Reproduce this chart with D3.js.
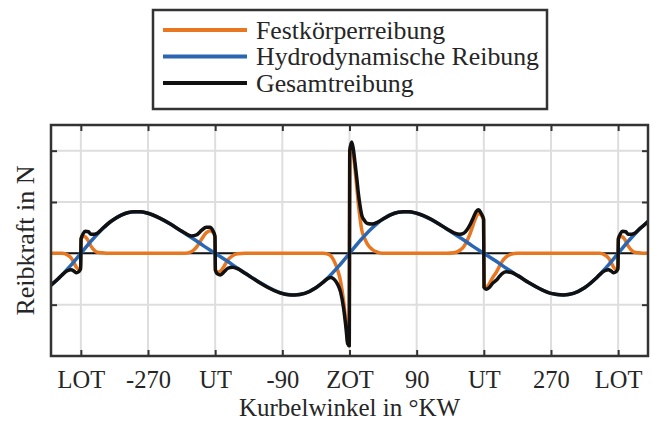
<!DOCTYPE html>
<meta charset="utf-8">
<style>
    body { margin: 0; background: #fff; }
    text { font-family: "Liberation Serif", "Times New Roman", serif; fill: #262626; }
</style>
<body>
<script src="https://d3js.org/d3.v7.min.js"></script>
<script>
    // x positions of the ticks (degree crank angle) and their labels
    var tickAngles = [-360, -270, -180, -90, 0, 90, 180, 270, 360];
    var tickLabels = ["LOT", "-270", "UT", "-90", "ZOT", "90", "UT", "270", "LOT"];
    var yTicks = [-1, 0, 1, 2];

    // Hydrodynamische Reibung, coarse sampling
    var hydroAngle = [-400, -390, -375, -360, -345, -330, -315, -300, -285, -270, -255, -240, -225, -210, -195,
        -180, -165, -150, -135, -120, -105, -90, -75, -60, -45, -30, -15, 0, 15, 30, 45, 60, 75, 90, 105, 120,
        135, 150, 165, 180, 195, 210, 225, 240, 255, 270, 285, 300, 315, 330, 345, 360, 375, 390, 400];
    var hydro = [-0.62, -0.49, -0.26, 0, 0.26, 0.49, 0.67, 0.78, 0.81, 0.78, 0.69, 0.57, 0.43, 0.29, 0.14,
        0, -0.14, -0.29, -0.43, -0.57, -0.69, -0.78, -0.81, -0.78, -0.67, -0.49, -0.26, 0, 0.26, 0.49, 0.67, 0.78, 0.81, 0.78, 0.69, 0.57,
        0.43, 0.29, 0.14, 0, -0.14, -0.29, -0.43, -0.57, -0.69, -0.78, -0.81, -0.78, -0.67, -0.49, -0.26, 0, 0.26, 0.49, 0.62];

    // dense sampling around the dead centres for Festkörper- and Gesamtreibung
    var angle = [-400, -390, -385, -378, -373, -369, -366, -363, -360.3, -359.7, -357, -354, -350, -346, -342, -338, -332,
        -320, -305, -290, -280, -270, -255, -240, -228, -220, -212, -205, -198, -192, -187, -183, -180.3, -179.7,
        -177, -173, -168, -163, -157, -150, -140, -125, -110, -95, -85, -73, -60, -45, -35, -30, -25, -21, -16,
        -12, -8, -4.5, -2.5, -0.3, 0.3, 3, 5, 7.5, 10, 12, 14, 16.5, 20, 24, 30, 38, 45, 55, 65, 72, 80, 90, 100,
        110, 120, 130, 140, 148, 153, 158, 162, 166, 170, 173, 176, 179.7, 180.3, 183, 187, 192, 197, 201, 205,
        210, 216, 225, 240, 255, 270, 287, 300, 315, 330, 335, 342, 347, 351, 354, 357, 359.7, 360.3, 363, 366,
        370, 374, 378, 382, 388, 394, 400];
    var fest = [0, 0, 0, -0.03, -0.09, -0.19, -0.27, -0.31, -0.30, 0.28, 0.33, 0.32, 0.24, 0.13, 0.06, 0.02, 0.01,
        0, 0, 0, 0, 0, 0, 0, 0, 0, 0.03, 0.12, 0.28, 0.40, 0.44, 0.41, 0.33, -0.33,
        -0.37, -0.35, -0.25, -0.13, -0.05, -0.01, 0, 0, 0, 0, 0, 0, 0, 0, 0, -0.01, -0.05, -0.14, -0.32,
        -0.54, -0.92, -1.40, -1.72, -1.80, 2.00, 2.12, 1.95, 1.62, 1.25, 0.94, 0.70, 0.45, 0.30, 0.18, 0.08, 0.02, 0, 0, 0, 0, 0, 0, 0,
        0, 0, 0, 0.01, 0.06, 0.13, 0.26, 0.40, 0.57, 0.72, 0.78, 0.75, 0.66, -0.66, -0.67, -0.60, -0.47, -0.36, -0.25, -0.15,
        -0.07, -0.02, 0, 0, 0, 0, 0, 0, 0, 0, 0, -0.03, -0.09, -0.19, -0.27, -0.31, -0.30, 0.28, 0.33, 0.32,
        0.24, 0.13, 0.06, 0.02, 0.01, 0, 0];
    var gesamt = [-0.62, -0.49, -0.42, -0.34, -0.32, -0.35, -0.38, -0.36, -0.30, 0.28, 0.38, 0.43, 0.42, 0.37, 0.37, 0.39, 0.47,
        0.62, 0.75, 0.81, 0.81, 0.78, 0.69, 0.57, 0.46, 0.39, 0.34, 0.36, 0.45, 0.51, 0.51, 0.44, 0.33, -0.33,
        -0.40, -0.42, -0.36, -0.29, -0.27, -0.30, -0.39, -0.53, -0.66, -0.76, -0.80, -0.81, -0.78, -0.67, -0.56, -0.50, -0.47, -0.50, -0.60,
        -0.75, -1.06, -1.48, -1.76, -1.80, 2.00, 2.17, 2.04, 1.75, 1.43, 1.15, 0.94, 0.74, 0.64, 0.58, 0.57, 0.61, 0.67, 0.75, 0.80, 0.81, 0.81, 0.78, 0.73,
        0.66, 0.57, 0.48, 0.40, 0.37, 0.39, 0.47, 0.57, 0.70, 0.82, 0.85, 0.79, 0.66, -0.66, -0.70, -0.67, -0.58, -0.52, -0.45, -0.39,
        -0.36, -0.37, -0.43, -0.57, -0.69, -0.78, -0.81, -0.78, -0.67, -0.49, -0.42, -0.34, -0.32, -0.35, -0.38, -0.36, -0.30, 0.28, 0.38, 0.43,
        0.42, 0.37, 0.37, 0.39, 0.47, 0.54, 0.62];

    var seriesNames = ["Festkörperreibung", "Hydrodynamische Reibung", "Gesamtreibung"];
    var seriesColors = ["#e87722", "#2a66b1", "#111111"];

    var width = 652,
        height = 421,
        margin = {top: 125, right: 4, bottom: 65, left: 51};

    var svg = d3.select('body')
        .append('svg')
        .attr('width', width)
        .attr('height', height);

    var x = d3.scaleLinear()
        .domain([-400, 400])
        .range([margin.left, width - margin.right]);

    var y = d3.scaleLinear()
        .domain([-2, 2.5])
        .range([height - margin.bottom, margin.top]);

    var plotW = width - margin.right - margin.left,
        plotH = height - margin.bottom - margin.top;

    svg.append('clipPath').attr('id', 'clip')
        .append('rect')
        .attr('x', margin.left).attr('y', margin.top)
        .attr('width', plotW).attr('height', plotH);

    // grid
    var grid = svg.append('g').attr('stroke', '#dedede').attr('stroke-width', 2);
    grid.selectAll('.vg').data(tickAngles).enter().append('line')
        .attr('x1', d => x(d)).attr('x2', d => x(d))
        .attr('y1', margin.top).attr('y2', height - margin.bottom);
    grid.selectAll('.hg').data(yTicks).enter().append('line')
        .attr('x1', margin.left).attr('x2', width - margin.right)
        .attr('y1', d => y(d)).attr('y2', d => y(d));

    // axes with inward ticks
    var bottomAxis = svg.append('g')
        .attr('transform', `translate(0,${height - margin.bottom})`)
        .call(d3.axisBottom(x).tickValues(tickAngles)
            .tickFormat((d, i) => tickLabels[i])
            .tickSizeInner(-6).tickSizeOuter(0).tickPadding(15));
    var topAxis = svg.append('g')
        .attr('transform', `translate(0,${margin.top})`)
        .call(d3.axisTop(x).tickValues(tickAngles).tickFormat('')
            .tickSizeInner(-6).tickSizeOuter(0));
    var leftAxis = svg.append('g')
        .attr('transform', `translate(${margin.left},0)`)
        .call(d3.axisLeft(y).tickValues(yTicks).tickFormat('')
            .tickSizeInner(-6).tickSizeOuter(0));
    var rightAxis = svg.append('g')
        .attr('transform', `translate(${width - margin.right},0)`)
        .call(d3.axisRight(y).tickValues(yTicks).tickFormat('')
            .tickSizeInner(-6).tickSizeOuter(0));

    [bottomAxis, topAxis, leftAxis, rightAxis].forEach(function (a) {
        a.select('.domain').remove();
        a.selectAll('.tick line').attr('stroke', '#333').attr('stroke-width', 2);
    });
    bottomAxis.selectAll('.tick text')
        .style('font-family', '"Liberation Serif", serif')
        .attr('font-size', 24.5).attr('fill', '#262626');

    var plot = svg.append('g').attr('clip-path', 'url(#clip)');

    // zero line
    plot.append('line')
        .attr('x1', margin.left).attr('x2', width - margin.right)
        .attr('y1', y(0)).attr('y2', y(0))
        .attr('stroke', '#111').attr('stroke-width', 2);

    var line = d3.line()
        .x(d => x(d[0]))
        .y(d => y(d[1]))
        .curve(d3.curveMonotoneX);

    var festPts = angle.map((a, i) => [a, fest[i]]);
    var hydroPts = hydroAngle.map((a, i) => [a, hydro[i]]);
    var gesamtPts = angle.map((a, i) => [a, gesamt[i]]);

    [festPts, hydroPts, gesamtPts].forEach(function (pts, i) {
        plot.append('path')
            .datum(pts)
            .attr('d', i === 1 ? line.curve(d3.curveCatmullRom)(pts) : line.curve(d3.curveMonotoneX)(pts))
            .attr('fill', 'none')
            .attr('stroke', seriesColors[i])
            .attr('stroke-width', 3.5)
            .attr('stroke-linejoin', 'round')
            .attr('stroke-linecap', 'round');
    });

    // box
    svg.append('rect')
        .attr('x', margin.left).attr('y', margin.top)
        .attr('width', plotW).attr('height', plotH)
        .attr('fill', 'none').attr('stroke', '#333').attr('stroke-width', 2.5);

    // axis titles
    svg.append('text')
        .attr('x', (margin.left + width - margin.right) / 2)
        .attr('y', 416)
        .attr('text-anchor', 'middle')
        .attr('font-size', 25)
        .text('Kurbelwinkel in °KW');

    svg.append('text')
        .attr('transform', `translate(34,${margin.top + plotH / 2}) rotate(-90)`)
        .attr('text-anchor', 'middle')
        .attr('font-size', 26)
        .text('Reibkraft in N');

    // legend
    var legend = svg.append('g');
    legend.append('rect')
        .attr('x', 153).attr('y', 10)
        .attr('width', 394).attr('height', 99)
        .attr('fill', '#fff').attr('stroke', '#333').attr('stroke-width', 2.5);
    var rows = legend.selectAll('.row').data(seriesNames).enter().append('g')
        .attr('transform', (d, i) => `translate(0,${30 + i * 26.5})`);
    rows.append('line')
        .attr('x1', 163).attr('x2', 247)
        .attr('stroke', (d, i) => seriesColors[i])
        .attr('stroke-width', 4);
    rows.append('text')
        .attr('x', 256).attr('dy', '0.33em')
        .attr('font-size', 25.8)
        .text(d => d);
</script>
</body>
